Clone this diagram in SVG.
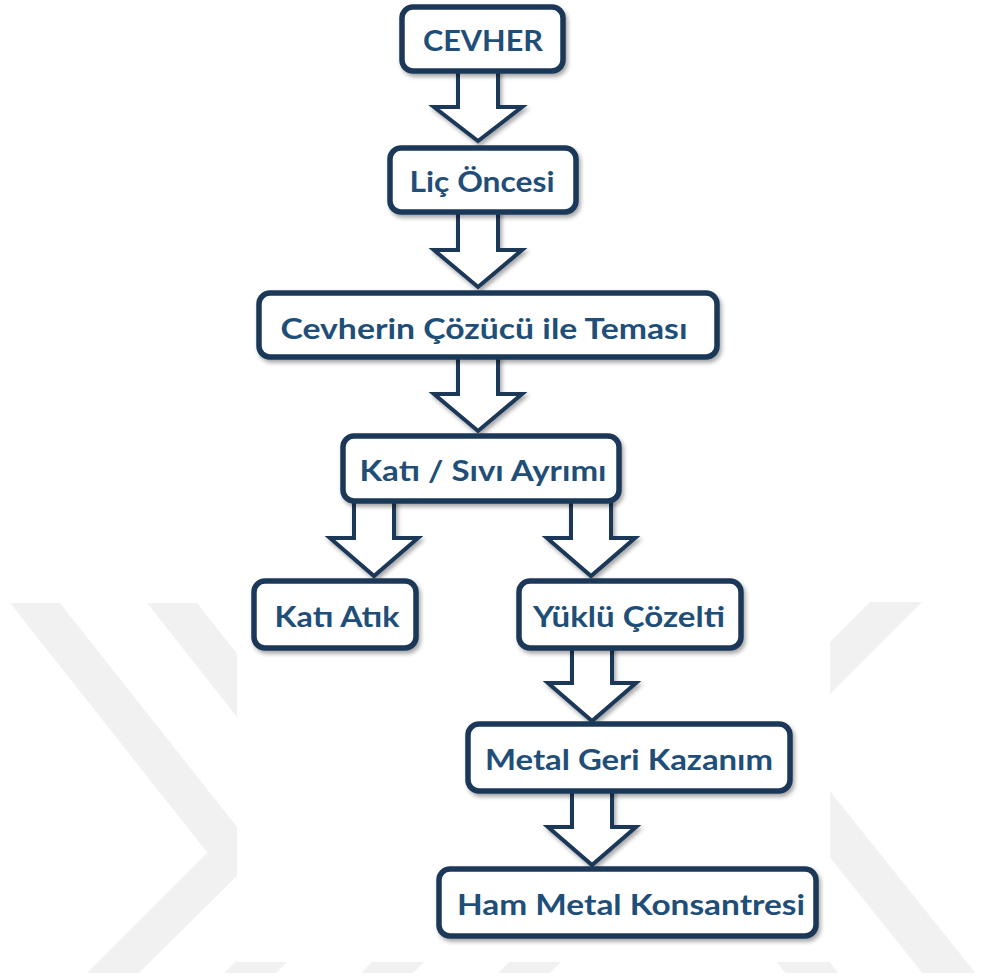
<svg xmlns="http://www.w3.org/2000/svg" width="981" height="978" viewBox="0 0 981 978">
<defs>
<style>
.wm{fill:#f1f1f1}
.box{fill:#ffffff;stroke:#1d3858;stroke-width:5.5;filter:url(#sh)}
.arr{fill:#ffffff;stroke:#1d3858;stroke-width:4;stroke-linejoin:miter;filter:url(#sh)}
.lbl{font-family:Lato,"Open Sans","Liberation Sans",sans-serif;font-weight:bold;font-size:29px;fill:#1f4e79;text-anchor:middle}
</style>
<filter id="sh" x="-20%" y="-20%" width="140%" height="150%">
<feDropShadow dx="2" dy="3" stdDeviation="2" flood-color="#000" flood-opacity="0.35"/>
</filter>
</defs>
<rect x="0" y="0" width="981" height="978" fill="#ffffff"/>
<g id="watermark">
<polygon class="wm" points="10,603 60,603 258.6,854.4 139,973 87,973 207.4,852.7"/>
<polygon class="wm" points="147,603 197,603 395.6,854.4 276,973 224,973 344.4,852.7"/>
<polygon class="wm" points="284,603 334,603 532.6,854.4 413,973 361,973 481.4,852.7"/>
<polygon class="wm" points="421,603 471,603 669.6,854.4 550,973 498,973 618.4,852.7"/>
<polygon class="wm" points="870,602 922,602 786.8,737.2 975.4,973 922.4,973 734.2,737.8"/>
<polygon class="wm" points="733,602 785,602 649.8,737.2 838.4,973 785.4,973 597.2,737.8"/>
<rect x="237" y="0" width="593" height="962" fill="#ffffff"/>
</g>
<g id="connectors">
<path class="arr" d="M458,70 L498,70 L498,107 L522,107 L478,141 L434,107 L458,107 Z"/>
<path class="arr" d="M458,211 L498,211 L498,250 L522,250 L478,287 L434,250 L458,250 Z"/>
<path class="arr" d="M458,356 L498,356 L498,394 L522,394 L478,431 L434,394 L458,394 Z"/>
<path class="arr" d="M354,501 L394,501 L394,538 L418,538 L374,576 L330,538 L354,538 Z"/>
<path class="arr" d="M571,501 L611,501 L611,538 L635,538 L591,576 L547,538 L571,538 Z"/>
<path class="arr" d="M572,648 L612,648 L612,683 L636,683 L592,721 L548,683 L572,683 Z"/>
<path class="arr" d="M572,790 L612,790 L612,827 L636,827 L592,865 L548,827 L572,827 Z"/>
</g>
<g id="n1"><rect class="box" x="402" y="7" width="161" height="64" rx="11"/><text class="lbl" x="483" y="51" textLength="120" lengthAdjust="spacingAndGlyphs">CEVHER</text></g>
<g id="n2"><rect class="box" x="390" y="148" width="186" height="64" rx="11"/><text class="lbl" x="482" y="192" textLength="145" lengthAdjust="spacingAndGlyphs">Liç Öncesi</text></g>
<g id="n3"><rect class="box" x="259" y="293" width="458" height="64" rx="11"/><text class="lbl" x="484" y="339" textLength="407" lengthAdjust="spacingAndGlyphs">Cevherin Çözücü ile Teması</text></g>
<g id="n4"><rect class="box" x="343" y="436" width="276" height="65" rx="11"/><text class="lbl" x="483" y="481" textLength="247" lengthAdjust="spacingAndGlyphs">Katı / Sıvı Ayrımı</text></g>
<g id="n5"><rect class="box" x="254" y="581" width="162" height="67" rx="11"/><text class="lbl" x="337" y="627" textLength="125" lengthAdjust="spacingAndGlyphs">Katı Atık</text></g>
<g id="n6"><rect class="box" x="519" y="581" width="222" height="67" rx="11"/><text class="lbl" x="629" y="627" textLength="192" lengthAdjust="spacingAndGlyphs">Yüklü Çözelti</text></g>
<g id="n7"><rect class="box" x="468" y="724" width="322" height="67" rx="11"/><text class="lbl" x="629" y="770" textLength="288" lengthAdjust="spacingAndGlyphs">Metal Geri Kazanım</text></g>
<g id="n8"><rect class="box" x="439" y="869" width="377" height="67" rx="11"/><text class="lbl" x="631" y="915" textLength="348" lengthAdjust="spacingAndGlyphs">Ham Metal Konsantresi</text></g>
</svg>
